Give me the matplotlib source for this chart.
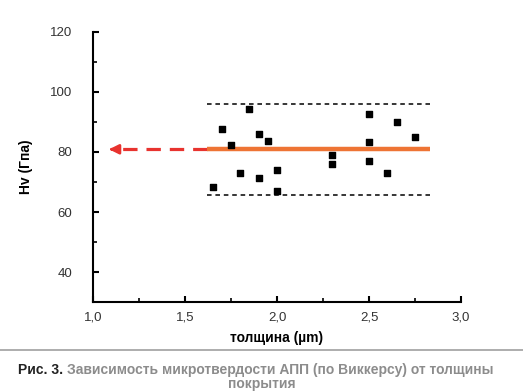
import matplotlib.pyplot as plt
from matplotlib.ticker import MultipleLocator

plt.rcParams['font.family'] = ['Liberation Sans', 'DejaVu Sans']

# thickness (um) vs Vickers microhardness Hv (GPa)
thickness = [1.65, 1.70, 1.75, 1.80, 1.85, 1.90, 1.90, 1.95, 2.00, 2.00,
             2.30, 2.30, 2.50, 2.50, 2.50, 2.60, 2.65, 2.75]
hardness = [68.2, 87.7, 82.2, 73.1, 94.2, 86.1, 71.2, 83.6, 74.1, 67.0,
            79.1, 76.1, 92.7, 83.2, 77.1, 73.1, 90.1, 85.1]

mean_hv = 80.9
upper_hv = 95.9
lower_hv = 65.8
band_x = [1.62, 2.83]
arrow_x = [1.62, 1.11]
xticks = [1.0, 1.5, 2.0, 2.5, 3.0]
yticks = [40, 60, 80, 100, 120]

fig = plt.figure(figsize=(5.23, 3.91), dpi=100)
ax = fig.add_axes([0.1778, 0.2276, 0.7037, 0.6906])

ax.plot(band_x, [upper_hv, upper_hv], color='black', lw=1.1, ls=(0, (3, 2.5)))
ax.plot(band_x, [lower_hv, lower_hv], color='black', lw=1.1, ls=(0, (3, 2.5)))
ax.plot(band_x, [mean_hv, mean_hv], color='#ee7434', lw=3.2, solid_capstyle='butt', zorder=3)

red = '#e8332f'
ax.plot(arrow_x, [mean_hv, mean_hv], color=red, lw=2.3, ls=(0, (4.5, 2.8)))
ax.annotate('', xy=(1.072, mean_hv), xytext=(1.125, mean_hv),
            arrowprops=dict(arrowstyle='-|>', color=red, lw=2.0, mutation_scale=14))

ax.scatter(thickness, hardness, marker='s', s=21, color='black', zorder=4)

ax.set_xlim(1.0, 3.0)
ax.set_ylim(30, 120)
ax.set_xticks(xticks)
ax.set_xticklabels([f'{v:.1f}'.replace('.', ',') for v in xticks])
ax.set_yticks(yticks)
ax.xaxis.set_minor_locator(MultipleLocator(0.25))
ax.yaxis.set_minor_locator(MultipleLocator(10))

for s in ['top', 'right']:
    ax.spines[s].set_visible(False)
for s in ['left', 'bottom']:
    ax.spines[s].set_linewidth(1.5)

ax.tick_params(which='major', direction='in', length=4, width=1.5,
               labelsize=9.5, labelcolor='#333333')
ax.tick_params(which='minor', direction='in', length=3, width=1.2)
ax.tick_params(axis='y', which='major', pad=15)
ax.tick_params(axis='x', which='major', pad=7)

ax.set_xlabel('толщина (µm)', fontsize=10, fontweight='bold', labelpad=5)
ax.set_ylabel('Hv (Гпа)', fontsize=10, fontweight='bold', labelpad=12)

# caption below a grey rule
fig.add_artist(plt.Line2D([0, 1], [1 - 350 / 391, 1 - 350 / 391],
                          color='#a0a0a0', lw=1.2, transform=fig.transFigure))

cap1 = fig.text(18 / 523, 1 - 370 / 391, 'Рис. 3.', ha='left', va='center',
                fontsize=10, fontweight='bold', color='#222222')
fig.canvas.draw()
bb = cap1.get_window_extent()
fig.text((bb.x1 + 4) / fig.bbox.width, 1 - 370 / 391,
         'Зависимость микротвердости АПП (по Виккерсу) от толщины',
         ha='left', va='center', fontsize=10, fontweight='bold', color='#8c8c8c')
fig.text(0.5, 1 - 384 / 391, 'покрытия', ha='center', va='center',
         fontsize=10, fontweight='bold', color='#8c8c8c')

fig.savefig('out.png', dpi=100)
